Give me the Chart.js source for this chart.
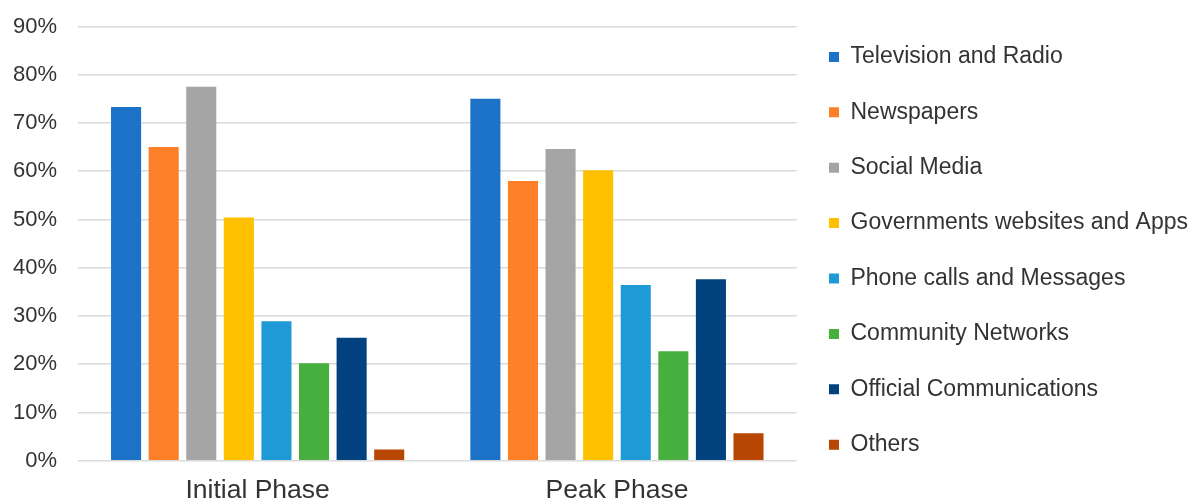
<!DOCTYPE html>
<html>
<head>
<meta charset="utf-8">
<script src="https://cdn.jsdelivr.net/npm/chart.js@4"></script>
<style>
  html, body { margin: 0; padding: 0; background: #fff; }
  #wrap { width: 1192px; height: 502px; }
</style>
</head>
<body>
<div id="wrap"><canvas id="chart"></canvas></div>
<script>
const phases = ['Initial Phase', 'Peak Phase'];
const sources = [
  'Television and Radio',
  'Newspapers',
  'Social Media',
  'Governments websites and Apps',
  'Phone calls and Messages',
  'Community Networks',
  'Official Communications',
  'Others'
];
// one array per source: [initial, peak], in %
const tvRadio = [73.3, 75.0];
const newspapers = [65.0, 58.0];
const socialMedia = [77.5, 64.6];
const govSites = [50.4, 60.2];
const phoneCalls = [28.9, 36.4];
const community = [20.2, 22.7];
const official = [25.5, 37.6];
const others = [2.3, 5.7];
const yTicks = [0, 10, 20, 30, 40, 50, 60, 70, 80, 90];

const seriesValues = [tvRadio, newspapers, socialMedia, govSites, phoneCalls, community, official, others];
const colors = ['#1B72C7', '#FD7F27', '#A5A5A5', '#FFC000', '#1E9BD7', '#47AF3E', '#02427F', '#B64602'];

const fontFamily = '"Liberation Sans", Arial, sans-serif';
const textColor = '#333333';

const ctx = document.getElementById('chart').getContext('2d');
new Chart(ctx, {
  type: 'bar',
  data: {
    labels: phases,
    datasets: sources.map((name, i) => ({
      label: name,
      data: seriesValues[i],
      backgroundColor: colors[i],
      borderWidth: 0,
      barPercentage: 0.8,
      categoryPercentage: 0.837
    }))
  },
  options: {
    responsive: true,
    maintainAspectRatio: false,
    animation: false,
    layout: { padding: { left: 12, top: 13, right: -6, bottom: 0 } },
    plugins: {
      tooltip: { enabled: false },
      legend: {
        position: 'right',
        align: 'start',
        maxWidth: 420,
        labels: {
          boxWidth: 10,
          boxHeight: 10,
          padding: 32.4,
          color: textColor,
          font: { family: fontFamily, size: 23 }
        }
      }
    },
    scales: {
      x: {
        grid: { display: false, drawTicks: false },
        border: { display: false },
        afterFit: (scale) => { scale.height = 41.3; },
        ticks: {
          padding: 14,
          color: textColor,
          font: { family: fontFamily, size: 26.5 }
        }
      },
      y: {
        min: 0,
        max: 90,
        afterBuildTicks: (scale) => {
          scale.ticks = yTicks.map(v => ({ value: v }));
        },
        afterFit: (scale) => { scale.width = 66; },
        grid: { color: '#D9D9D9', lineWidth: 1.5, drawTicks: false },
        border: { display: false },
        ticks: {
          padding: 21,
          color: textColor,
          font: { family: fontFamily, size: 22, lineHeight: 0.5 },
          callback: (v) => v + '%'
        }
      }
    }
  }
});
</script>
</body>
</html>
